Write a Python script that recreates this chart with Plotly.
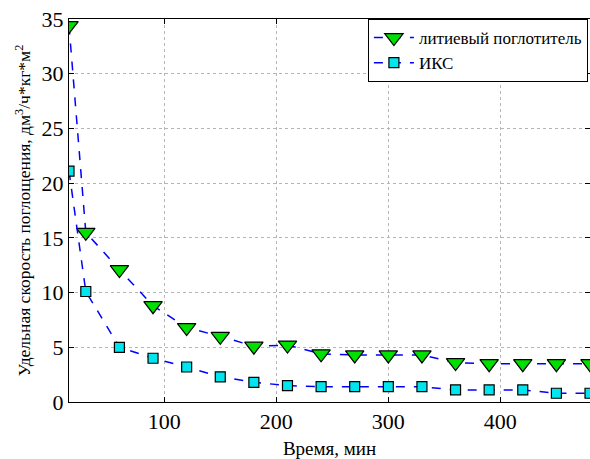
import plotly.graph_objects as go

time_min = [15, 30, 60, 90, 120, 150, 180, 210, 240, 270, 300, 330, 360, 390, 420, 450, 480]
lithium = [34.4, 15.5, 12.1, 8.8, 6.8, 6.0, 5.1, 5.2, 4.4, 4.3, 4.3, 4.3, 3.6, 3.5, 3.5, 3.5, 3.5]
iks = [21.1, 10.1, 5.0, 4.0, 3.2, 2.3, 1.8, 1.5, 1.4, 1.4, 1.4, 1.4, 1.1, 1.1, 1.1, 0.8, 0.8]

series_names = ["литиевый поглотитель", "ИКС"]
x_ticks = [100, 200, 300, 400]
y_ticks = [0, 5, 10, 15, 20, 25, 30, 35]

FONT = '"Liberation Serif", "Times New Roman", Times, serif'

fig = go.Figure()
fig.add_trace(go.Scatter(
    x=time_min, y=lithium, name=series_names[0], mode="lines+markers",
    line=dict(color="#0000ff", width=1.5, dash="dash"),
    marker=dict(symbol="triangle-down", size=16, color="#00e000",
                line=dict(color="black", width=1.2)),
))
fig.add_trace(go.Scatter(
    x=time_min, y=iks, name=series_names[1], mode="lines+markers",
    line=dict(color="#0000ff", width=1.5, dash="dash"),
    marker=dict(symbol="square", size=10, color="#00e5ee",
                line=dict(color="black", width=1.2)),
))

axis_common = dict(
    showline=True, linecolor="black", linewidth=1, mirror="ticks",
    ticks="inside", ticklen=5, tickcolor="black",
    showgrid=True, gridcolor="#b5b5b5", griddash="dot", gridwidth=1,
    zeroline=False, automargin=False,
    tickfont=dict(family=FONT, size=22, color="black"),
)

fig.update_layout(
    width=590, height=459,
    margin=dict(l=69, r=0, t=19, b=57, autoexpand=False),
    paper_bgcolor="white", plot_bgcolor="white",
    font=dict(family=FONT, color="black"),
    xaxis=dict(range=[15, 480], tickvals=x_ticks, **axis_common,
               title=dict(text="Время, мин", font=dict(family=FONT, size=19), standoff=8)),
    yaxis=dict(range=[0, 35], tickvals=y_ticks, **axis_common,
               title=dict(text="Удельная скорость поглощения, дм<sup>3</sup>/ч*кг*м<sup>2</sup>",
                          font=dict(family=FONT, size=17.5), standoff=6)),
    legend=dict(x=0.996, y=1.0, xanchor="right", yanchor="top",
                bgcolor="white", bordercolor="black", borderwidth=1,
                font=dict(family=FONT, size=17), itemwidth=40,
                tracegroupgap=0),
    showlegend=True,
)

fig.write_html("out.html", config={"displayModeBar": False},
               post_script="document.body.style.margin='0';document.body.style.overflow='hidden';")
